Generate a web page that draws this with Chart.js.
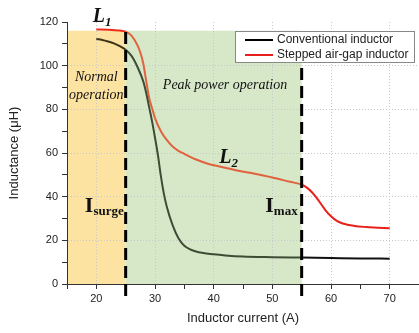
<!DOCTYPE html>
<html>
<head>
<meta charset="utf-8">
<script src="https://cdn.jsdelivr.net/npm/chart.js@4.4.1/dist/chart.umd.min.js"></script>
<style>
  html, body { margin: 0; padding: 0; overflow: hidden; background: #fff; }
  canvas { display: block; }
</style>
</head>
<body>
<canvas id="chart" width="422" height="333"></canvas>
<script>
const ctx = document.getElementById('chart').getContext('2d');

// Conventional inductor
const convCurrent = [20, 21, 22, 23, 24, 25, 26, 27, 28, 28.5, 29, 29.5, 30, 30.5, 31, 31.5, 32, 33, 34, 35, 36, 37, 38, 40, 42, 45, 50, 55, 60, 65, 70];
const convInductance = [112.2, 111.8, 111.1, 110.2, 108.9, 107.3, 104.5, 99.5, 92.8, 87.5, 81, 74.5, 67, 59, 49.5, 41.5, 35.5, 27, 21, 17.5, 15.9, 14.9, 14.3, 13.6, 13.1, 12.6, 12.3, 12.1, 11.9, 11.7, 11.6];

// Stepped air-gap inductor
const stepCurrent = [20, 22, 24, 25, 26, 27, 27.5, 28, 28.5, 29, 29.5, 30, 31, 32, 33, 34, 35, 36, 37, 39, 41, 44, 47, 50, 53, 55, 56, 57, 58, 59, 60, 61, 62, 64, 66, 68, 70];
const stepInductance = [116.6, 116.5, 116.1, 115.6, 113.8, 109.4, 106, 101, 93, 85.3, 80.5, 76, 70, 66, 63, 61, 59.6, 58.2, 57, 55.1, 53.8, 52, 50.5, 48.8, 46.8, 45.5, 43.9, 41.3, 37.8, 34, 31, 28.9, 27.7, 26.6, 26.1, 25.8, 25.5];

const seriesLabels = ['Conventional inductor', 'Stepped air-gap inductor'];

// operating regions (current, A) and the top of the shading (uH)
const regionStart = [15, 25];
const regionEnd = [25, 55];
const regionTop = 116;
const limitCurrents = [25, 55];

const shadeColors = ['#fde3a1', '#d7e8c9'];
// line colour outside / in yellow / in green
const convColors = ['#111111', '#3d3519', '#3e4c34'];
const stepColors = ['#e8201c', '#ee2a1a', '#e0623e'];

function regionOf(x) {
    for (let i = 0; i < regionStart.length; i++) {
        if (x >= regionStart[i] && x <= regionEnd[i]) return i;
    }
    return -1;
}

function segColor(colors) {
    return c => colors[regionOf((c.p0.parsed.x + c.p1.parsed.x) / 2) + 1];
}

const serif = '"Liberation Serif", "DejaVu Serif", serif';
const annotations = [
    { x: 19.39, y: 120.2, parts: [['L', 'bold italic 20px ' + serif, 0], ['1', 'bold italic 13px ' + serif, 4]] },
    { x: 20, y: 92.8, align: 'center', parts: [['Normal', 'italic 14px ' + serif, 0]] },
    { x: 20, y: 84.7, align: 'center', parts: [['operation', 'italic 14px ' + serif, 0]] },
    { x: 41.94, y: 89.3, align: 'center', parts: [['Peak power operation', 'italic 14px ' + serif, 0]] },
    { x: 40.96, y: 55.4, parts: [['L', 'bold italic 20px ' + serif, 0], ['2', 'bold italic 13px ' + serif, 4]] },
    { x: 18.04, y: 33.0, parts: [['I', 'bold 22px ' + serif, 0], ['surge', 'bold 13px ' + serif, 3]] },
    { x: 48.8, y: 33.1, parts: [['I', 'bold 22px ' + serif, 0], ['max', 'bold 13px ' + serif, 3]] }
];

const decorations = {
    id: 'decorations',
    beforeDraw(chart) {
        const c = chart.ctx;
        const { x, y } = chart.scales;
        c.save();
        c.fillStyle = '#fff';
        c.fillRect(0, 0, chart.width, chart.height);
        regionStart.forEach((s, i) => {
            const x0 = x.getPixelForValue(s);
            const x1 = x.getPixelForValue(regionEnd[i]);
            const y0 = y.getPixelForValue(regionTop);
            const y1 = y.getPixelForValue(0);
            c.fillStyle = shadeColors[i];
            c.fillRect(x0, y0, x1 - x0, y1 - y0);
        });
        c.restore();
    },
    afterDatasetsDraw(chart) {
        const c = chart.ctx;
        const { x, y } = chart.scales;
        c.save();
        // dashed current limits
        c.strokeStyle = '#000';
        c.lineWidth = 3;
        c.setLineDash([12, 6]);
        limitCurrents.forEach(v => {
            const px = x.getPixelForValue(v);
            c.beginPath();
            c.moveTo(px, y.getPixelForValue(0) + 12);
            c.lineTo(px, y.getPixelForValue(regionTop));
            c.stroke();
        });
        c.setLineDash([]);
        // text labels
        c.fillStyle = '#111';
        c.textBaseline = 'alphabetic';
        c.textAlign = 'left';
        annotations.forEach(a => {
            let total = 0;
            a.parts.forEach(p => { c.font = p[1]; total += c.measureText(p[0]).width; });
            let px = x.getPixelForValue(a.x);
            if (a.align === 'center') px -= total / 2;
            const py = y.getPixelForValue(a.y);
            a.parts.forEach(p => {
                c.font = p[1];
                c.fillText(p[0], px, py + p[2]);
                px += c.measureText(p[0]).width;
            });
        });
        c.restore();
    },
    afterDraw(chart) {
        const c = chart.ctx;
        const area = chart.chartArea;
        const w = 179, h = 31;
        const left = area.right - 5 - w;
        const top = area.top + 9;
        c.save();
        c.fillStyle = '#fff';
        c.fillRect(left, top, w, h);
        c.strokeStyle = '#888';
        c.lineWidth = 1;
        c.strokeRect(left + 0.5, top + 0.5, w, h);
        c.font = '12px "Liberation Sans", Arial, sans-serif';
        c.textBaseline = 'middle';
        const sample = ['#000', stepColors[0]];
        seriesLabels.forEach((lab, i) => {
            const ry = top + 9 + i * 15;
            c.strokeStyle = sample[i];
            c.lineWidth = 2;
            c.beginPath();
            c.moveTo(left + 10, ry);
            c.lineTo(left + 38, ry);
            c.stroke();
            c.fillStyle = '#222';
            c.fillText(lab, left + 42, ry);
        });
        c.restore();
    }
};

new Chart(ctx, {
    type: 'line',
    data: {
        datasets: [
            {
                label: seriesLabels[0],
                data: convCurrent.map((v, i) => ({ x: v, y: convInductance[i] })),
                borderColor: convColors[0],
                segment: { borderColor: segColor(convColors) },
                borderWidth: 2,
                pointRadius: 0,
                fill: false,
                cubicInterpolationMode: 'monotone'
            },
            {
                label: seriesLabels[1],
                data: stepCurrent.map((v, i) => ({ x: v, y: stepInductance[i] })),
                borderColor: stepColors[0],
                segment: { borderColor: segColor(stepColors) },
                borderWidth: 2,
                pointRadius: 0,
                fill: false,
                cubicInterpolationMode: 'monotone'
            }
        ]
    },
    options: {
        responsive: false,
        animation: false,
        devicePixelRatio: 1,
        layout: { padding: { left: 0, top: 22, right: 0, bottom: 0 } },
        plugins: {
            legend: { display: false },
            tooltip: { enabled: false }
        },
        scales: {
            x: {
                type: 'linear',
                min: 15,
                max: 75,
                afterFit: s => { s.height = 49; },
                border: { display: true, color: '#333', width: 1, dash: [1, 2] },
                grid: {
                    color: c => (c.tick && c.tick.value % 10 === 0 && c.tick.value > 15 && c.tick.value < 75) ? '#c8c8c8' : 'rgba(0,0,0,0)',
                    tickColor: '#333',
                    tickBorderDash: [],
                    tickLength: 5,
                    tickWidth: 1
                },
                ticks: {
                    stepSize: 5,
                    autoSkip: false,
                    maxRotation: 0,
                    padding: 3,
                    color: '#222',
                    font: { family: '"Liberation Sans", Arial, sans-serif', size: 11 },
                    callback: v => (v % 10 === 0 && v < 75) ? v : ''
                },
                title: {
                    display: true,
                    text: 'Inductor current (A)',
                    color: '#222',
                    font: { family: '"Liberation Sans", Arial, sans-serif', size: 13 },
                    padding: { top: 0, bottom: 7 }
                }
            },
            y: {
                min: 0,
                max: 120,
                afterFit: s => { s.width = 67; },
                border: { display: true, color: '#333', width: 1, dash: [1, 2] },
                grid: {
                    color: c => (c.tick && c.tick.value % 20 === 0 && c.tick.value > 0 && c.tick.value < 120) ? '#c8c8c8' : 'rgba(0,0,0,0)',
                    tickColor: '#333',
                    tickBorderDash: [],
                    tickLength: 5,
                    tickWidth: 1
                },
                ticks: {
                    stepSize: 10,
                    autoSkip: false,
                    padding: 4,
                    color: '#222',
                    font: { family: '"Liberation Sans", Arial, sans-serif', size: 11 },
                    callback: v => v % 20 === 0 ? v : ''
                },
                title: {
                    display: true,
                    text: 'Inductance (\u03bcH)',
                    color: '#222',
                    font: { family: '"Liberation Sans", Arial, sans-serif', size: 13 },
                    padding: { top: 7, bottom: 0 }
                }
            }
        }
    },
    plugins: [decorations]
});
</script>
</body>
</html>
